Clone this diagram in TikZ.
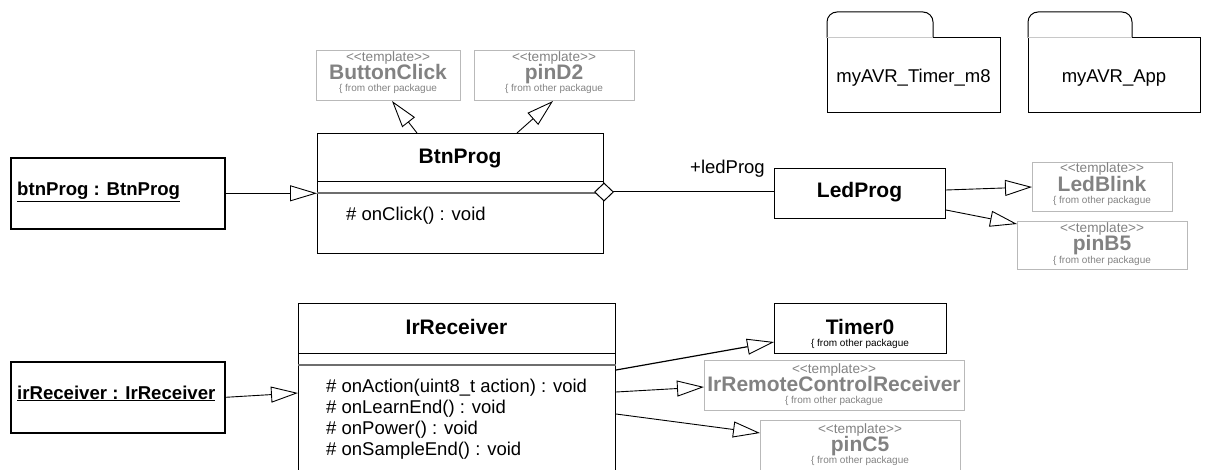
\documentclass[tikz,border=0pt]{standalone}
\usepackage{fontspec}
\setmainfont{Liberation Sans}
\usetikzlibrary{arrows.meta}
\definecolor{tplborder}{RGB}{185,185,185}
\definecolor{tpltext}{RGB}{130,130,130}
\definecolor{divgray}{RGB}{110,110,110}
\definecolor{tabgray}{RGB}{200,200,200}
\newcommand\fTitle{\fontsize{21}{25}\selectfont\bfseries}
\newcommand\fMeth{\fontsize{18.5}{22}\selectfont}
\newcommand\fObj{\fontsize{18.6}{22}\selectfont\bfseries}
\newcommand\fTpl{\fontsize{13.6}{16}\selectfont}
\newcommand\fSmall{\fontsize{10}{12}\selectfont}
\newcommand\tplword{<\kern0pt<template>\kern0pt>}
\tikzset{
  cls/.style={draw, line width=1pt, anchor=north west, inner sep=0pt, fill=white},
  objbox/.style={draw, line width=1.6pt, anchor=north west, inner sep=0pt},
  tpl/.style={draw=tplborder, line width=1pt, anchor=north west, inner sep=0pt},
  txt/.style={anchor=base, inner sep=0pt},
  ltxt/.style={anchor=base west, inner sep=0pt},
  tpltxt/.style={anchor=base, inner sep=0pt, text=tpltext},
  gen/.style={line width=0.9pt, -{Triangle[length=27pt,width=16pt,fill=white,line width=0.9pt]}},
  agg/.style={line width=1pt, {Diamond[length=20pt,width=19pt,fill=white,line width=1pt]}-},
  divline/.style={line width=1pt},
  divline2/.style={line width=1.5pt, draw=divgray},
}
\begin{document}
\begin{tikzpicture}[x=1pt,y=-1pt]
\useasboundingbox (0,0) rectangle (1206,470);
\clip (0,0) rectangle (1206,470);

% ---------- packages ----------
\draw[line width=1pt, rounded corners=10pt] (827,38) -- (827,12) -- (933,12) -- (933,38);
\draw[line width=1pt] (933,38) -- (1000,38) -- (1000,113) -- (827,113) -- (827,38);
\draw[line width=1pt, tabgray] (827,38) -- (933,38);
\node[txt] (pkgtimer) at (913.5,83) {\fMeth myAVR\_Timer\_m8};

\draw[line width=1pt, rounded corners=10pt] (1028,38) -- (1028,12) -- (1132,12) -- (1132,38);
\draw[line width=1pt] (1132,38) -- (1200,38) -- (1200,113) -- (1028,113) -- (1028,38);
\draw[line width=1pt, tabgray] (1028,38) -- (1132,38);
\node[txt] (pkgapp) at (1114,83) {\fMeth myAVR\_App};

% ---------- template boxes (top) ----------
\node[tpl, minimum width=144pt, minimum height=50pt] (buttonclick) at (316,50) {};
\node[tpltxt] (bcT) at (388,62) {\fTpl \tplword};
\node[tpltxt] (bcN) at (388,80) {\fTitle ButtonClick};
\node[tpltxt] (bcF) at (388,92) {\fSmall \{ from other packague};

\node[tpl, minimum width=160pt, minimum height=50pt] (pind2) at (474,50) {};
\node[tpltxt] (pdT) at (554,62) {\fTpl \tplword};
\node[tpltxt] (pdN) at (554,80) {\fTitle pinD2};
\node[tpltxt] (pdF) at (554,92) {\fSmall \{ from other packague};

% ---------- BtnProg ----------
\node[objbox, minimum width=214pt, minimum height=71pt] (btnobj) at (10,157) {};
\node[ltxt] (btnobjT) at (17,196) {\fObj \underline{btnProg : BtnProg}};

\node[cls, minimum width=286pt, minimum height=120pt] (btnprog) at (317,133) {};
\draw[divline] ([yshift=-49pt]btnprog.north west) -- ([yshift=-49pt]btnprog.north east);
\draw[divline2] ([yshift=-60pt]btnprog.north west) -- ([yshift=-60pt]btnprog.north east);
\node[txt] (btnprogT) at (460,164) {\fTitle BtnProg};
\node[ltxt] (btnprogM) at (346,221) {\fMeth \# onClick() : void};

% ---------- LedProg ----------
\node[cls, minimum width=171pt, minimum height=50pt] (ledprog) at (774,168) {};
\node[txt] (ledprogT) at (859.5,198) {\fTitle LedProg};
\node[ltxt] (ledlabel) at (690,174) {\fMeth +ledProg};

\node[tpl, minimum width=140pt, minimum height=49pt] (ledblink) at (1032,162) {};
\node[tpltxt] (lbT) at (1102,173) {\fTpl \tplword};
\node[tpltxt] (lbN) at (1102,192) {\fTitle LedBlink};
\node[tpltxt] (lbF) at (1102,204) {\fSmall \{ from other packague};

\node[tpl, minimum width=170pt, minimum height=48pt] (pinb5) at (1017,221) {};
\node[tpltxt] (pbT) at (1102,233) {\fTpl \tplword};
\node[tpltxt] (pbN) at (1102,251) {\fTitle pinB5};
\node[tpltxt] (pbF) at (1102,263) {\fSmall \{ from other packague};

% ---------- IrReceiver ----------
\node[objbox, minimum width=214pt, minimum height=71pt] (irobj) at (10,361) {};
\node[ltxt] (irobjT) at (17,399) {\fObj \underline{irReceiver : IrReceiver}};

\node[cls, minimum width=317pt, minimum height=180pt] (irrecv) at (298,303) {};
\draw[divline] ([yshift=-50pt]irrecv.north west) -- ([yshift=-50pt]irrecv.north east);
\draw[divline2] ([yshift=-62pt]irrecv.north west) -- ([yshift=-62pt]irrecv.north east);
\node[txt] (irrecvT) at (456.5,334) {\fTitle IrReceiver};
\node[ltxt] (irM1) at (326,392) {\fMeth \# onAction(uint8\_t action) : void};
\node[ltxt] (irM2) at (326,413) {\fMeth \# onLearnEnd() : void};
\node[ltxt] (irM3) at (326,434) {\fMeth \# onPower() : void};
\node[ltxt] (irM4) at (326,455) {\fMeth \# onSampleEnd() : void};

\node[cls, minimum width=172pt, minimum height=50pt] (timer0) at (774,303) {};
\node[txt] (timerN) at (860,334) {\fTitle Timer0};
\node[txt] (timerF) at (860,346) {\fSmall \{ from other packague};

\node[tpl, minimum width=260pt, minimum height=50pt] (irremote) at (704,360) {};
\node[tpltxt] (irrT) at (834,373) {\fTpl \tplword};
\node[tpltxt] (irrN) at (834,391) {\fTitle IrRemoteControlReceiver};
\node[tpltxt] (irrF) at (834,403) {\fSmall \{ from other packague};

\node[tpl, minimum width=200pt, minimum height=55pt] (pinc5) at (760,420) {};
\node[tpltxt] (pcT) at (860,433) {\fTpl \tplword};
\node[tpltxt] (pcN) at (860,451) {\fTitle pinC5};
\node[tpltxt] (pcF) at (860,463) {\fSmall \{ from other packague};

% ---------- connectors ----------
\coordinate (aggs) at ([xshift=-10pt,yshift=-59pt]btnprog.north east);
\draw[gen] ([xshift=100pt]btnprog.north west) -- ([xshift=76pt]buttonclick.south west);
\draw[gen] ([xshift=200pt]btnprog.north west) -- ([xshift=79pt]pind2.south west);
\draw[gen] (btnobj.east) -- (btnprog.west |- btnobj.east);
\draw[agg] (aggs) -- (ledprog.west |- aggs);
\draw[gen] ([yshift=-22pt]ledprog.north east) -- (ledblink.west);
\draw[gen] ([yshift=-42pt]ledprog.north east) -- ([yshift=-3pt]pinb5.north west);

\draw[gen] (irobj.east) -- ([yshift=-90pt]irrecv.north west);
\draw[gen, line width=1.2pt] ([yshift=-67pt]irrecv.north east) -- ([yshift=-39pt]timer0.north west);
\draw[gen] ([yshift=-89pt]irrecv.north east) -- ([yshift=-27pt]irremote.north west);
\draw[gen] ([yshift=-111pt]irrecv.north east) -- ([yshift=-13pt]pinc5.north west);
\end{tikzpicture}
\end{document}
